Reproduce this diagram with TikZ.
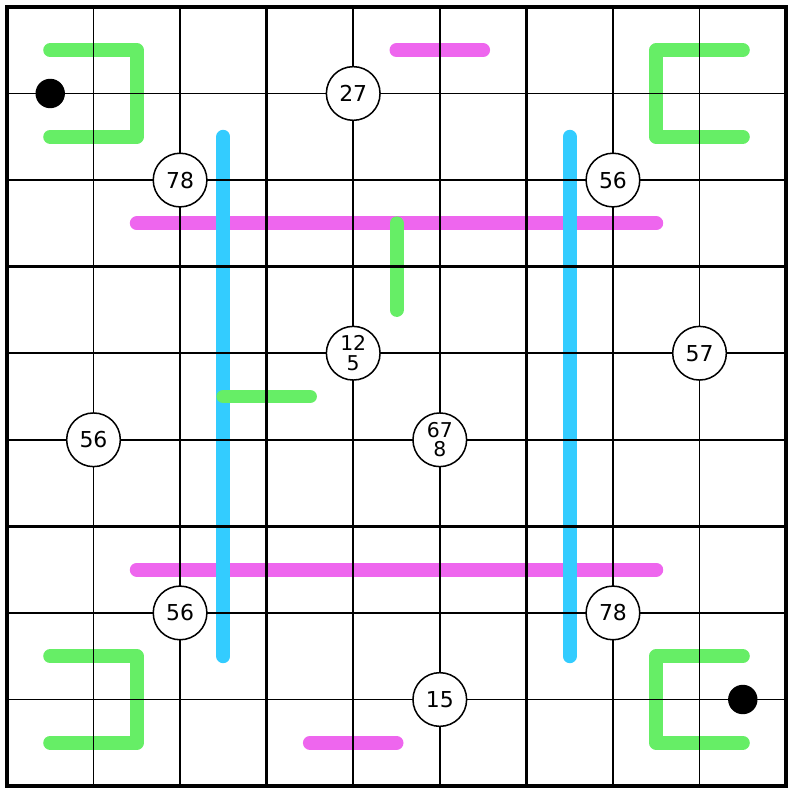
\documentclass[tikz,border=0pt]{standalone}
\usepackage{fontspec}
\setmainfont{DejaVu Sans}
\usepackage{tikz}
\definecolor{vert}{RGB}{102,238,102}
\definecolor{rose}{RGB}{238,102,238}
\definecolor{bleu}{RGB}{51,204,255}
\tikzstyle{fin}=[line width=0.5pt,black]
\tikzstyle{bloc}=[line width=1.15pt,black]
\tikzstyle{ligne}=[line width=4.6pt,line cap=round,line join=round]
\tikzstyle{cand}=[circle,draw,fill=white,minimum size=0.62cm,inner sep=0pt,
line width=0.5pt,text=black,font=\fontsize{7.2}{8}\selectfont]
\tikzstyle{cand2}=[cand,align=center,font=\fontsize{6.7}{6.4}\selectfont]
\tikzstyle{bille}=[circle,fill=black,minimum size=0.34cm,inner sep=0pt]

\begin{document}
\begin{tikzpicture}[y=-1cm]
\useasboundingbox (-0.08,-0.08) rectangle (9.08,9.08);
%lignes de couleur
\draw[ligne,rose] (4.5,0.5) -- (5.5,0.5);
\draw[ligne,rose] (1.5,2.5) -- (7.5,2.5);
\draw[ligne,rose] (1.5,6.5) -- (7.5,6.5);
\draw[ligne,rose] (3.5,8.5) -- (4.5,8.5);
\draw[ligne,bleu] (2.5,1.5) -- (2.5,7.5);
\draw[ligne,bleu] (6.5,1.5) -- (6.5,7.5);
\draw[ligne,vert] (0.5,0.5) -- (1.5,0.5) -- (1.5,1.5) -- (0.5,1.5);
\draw[ligne,vert] (8.5,0.5) -- (7.5,0.5) -- (7.5,1.5) -- (8.5,1.5);
\draw[ligne,vert] (0.5,7.5) -- (1.5,7.5) -- (1.5,8.5) -- (0.5,8.5);
\draw[ligne,vert] (8.5,7.5) -- (7.5,7.5) -- (7.5,8.5) -- (8.5,8.5);
\draw[ligne,vert] (4.5,2.5) -- (4.5,3.5);
\draw[ligne,vert] (2.5,4.5) -- (3.5,4.5);
%grille
\foreach \i in {1,2,4,5,7,8}{
\draw[fin] (\i,0) -- (\i,9);
\draw[fin] (0,\i) -- (9,\i);
}
\foreach \i in {3,6}{
\draw[bloc] (\i,0) -- (\i,9);
\draw[bloc] (0,\i) -- (9,\i);
}
\draw[bloc] (0,0) rectangle (9,9);
%cercles
\node[cand] (c27) at (4,1) {27};
\node[cand] (c78a) at (2,2) {78};
\node[cand] (c56a) at (7,2) {56};
\node[cand2] (c125) at (4,4) {12\\5};
\node[cand] (c57) at (8,4) {57};
\node[cand] (c56b) at (1,5) {56};
\node[cand2] (c678) at (5,5) {67\\8};
\node[cand] (c56c) at (2,7) {56};
\node[cand] (c78b) at (7,7) {78};
\node[cand] (c15) at (5,8) {15};
%billes
\node[bille] (b1) at (0.5,1) {};
\node[bille] (b2) at (8.5,8) {};
\end{tikzpicture}
\end{document}
